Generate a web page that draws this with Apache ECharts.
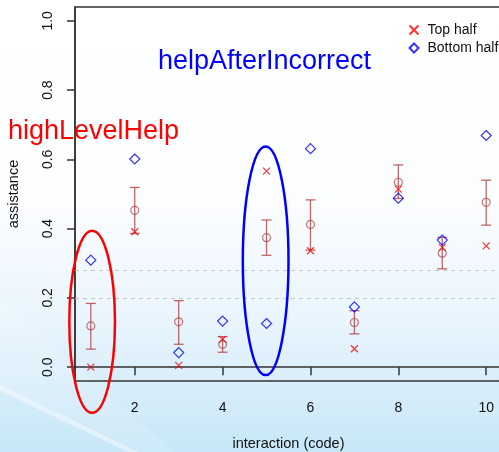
<!DOCTYPE html>
<html>
<head>
<meta charset="utf-8">
<script src="https://cdn.jsdelivr.net/npm/echarts@6/dist/echarts.min.js"></script>
<style>html,body{margin:0;padding:0;}#c{width:499px;height:452px;}</style>
</head>
<body>
<div id="c"></div>
<script>
// ---- data ----
const codes = [1, 2, 3, 4, 5, 6, 7, 8, 9, 10];
const topHalf    = [0.000, 0.391, 0.005, 0.080, 0.566, 0.336, 0.053, 0.514, 0.346, 0.350];
const bottomHalf = [0.309, 0.601, 0.042, 0.133, 0.126, 0.631, 0.174, 0.488, 0.367, 0.669];
const meanVals   = [0.119, 0.453, 0.131, 0.066, 0.374, 0.412, 0.129, 0.534, 0.329, 0.476];
const errLow     = [0.052, 0.386, 0.066, 0.043, 0.323, 0.338, 0.096, 0.487, 0.284, 0.410];
const errHigh    = [0.184, 0.519, 0.192, 0.088, 0.425, 0.483, 0.163, 0.584, 0.375, 0.540];
const refLines   = [0.20, 0.28];
const xTicks = [2, 4, 6, 8, 10];
const yTicks = [0, 0.2, 0.4, 0.6, 0.8, 1.0];
// ellipses: [centerX, centerY, radiusX, radiusY]
const ellipseRed  = [1.03, 0.131, 0.52, 0.263];
const ellipseBlue = [4.98, 0.307, 0.52, 0.330];

const FONT = 'Liberation Sans';
const chart = echarts.init(document.getElementById('c'), null, {renderer: 'canvas'});

function ellipseRender(color) {
  return function (params, api) {
    const c = api.coord([api.value(0), api.value(1)]);
    const s = api.size([api.value(2), api.value(3)]);
    return {
      type: 'ellipse',
      shape: {cx: c[0], cy: c[1], rx: s[0], ry: s[1]},
      style: {fill: 'none', stroke: color, lineWidth: 2.5}
    };
  };
}

const option = {
  animation: false,
  backgroundColor: {
    type: 'linear', x: 0, y: 0, x2: 0, y2: 1,
    colorStops: [
      {offset: 0, color: '#ffffff'},
      {offset: 0.45, color: '#fbfdff'},
      {offset: 0.7, color: '#eaf5fd'},
      {offset: 1, color: '#c7e7f8'}
    ]
  },
  graphic: [
    {type: 'polygon', silent: true, z: -1,
     shape: {points: [[0, 300], [0, 386], [130, 452], [175, 452]]},
     style: {fill: 'rgba(255,255,255,0.12)'}},
    {type: 'polygon', silent: true, z: -1,
     shape: {points: [[0, 385], [0, 391], [128, 452], [138, 452]]},
     style: {fill: 'rgba(255,255,255,0.4)'}},
    {type: 'text', left: 8, top: 118, z: 100,
     style: {text: 'highLevelHelp', fill: '#ff0000', font: '27px "' + FONT + '"'}},
    {type: 'text', left: 158, top: 48, z: 100,
     style: {text: 'helpAfterIncorrect', fill: '#0000ff', font: '27px "' + FONT + '"'}}
  ],
  grid: {
    left: 75, top: 7, width: 427, height: 374,
    outerBoundsMode: 'none', containLabel: false,
    show: true, borderColor: '#333', borderWidth: 1.5, backgroundColor: 'transparent'
  },
  legend: {
    orient: 'vertical', left: 402, top: 18, itemWidth: 9, itemHeight: 9, itemGap: 4,
    textStyle: {fontFamily: FONT, fontSize: 14, color: '#111', lineHeight: 14, padding: [0, 0, 0, 4]},
    data: ['Top half', 'Bottom half'],
    selectedMode: false
  },
  xAxis: {
    type: 'value', min: 0.64, max: 10.36,
    name: 'interaction (code)', nameLocation: 'middle', nameGap: 55,
    nameTextStyle: {fontFamily: FONT, fontSize: 14.5, color: '#111'},
    axisLine: {show: true, lineStyle: {color: '#333', width: 1.5}},
    axisTick: {show: true, length: 8, customValues: xTicks, lineStyle: {color: '#333', width: 1.5}},
    axisLabel: {customValues: xTicks, margin: 20, fontFamily: FONT, fontSize: 14, color: '#111'},
    splitLine: {show: false}
  },
  yAxis: {
    type: 'value', min: -0.04, max: 1.04,
    name: 'assistance', nameLocation: 'middle', nameGap: 54, nameRotate: 90,
    nameTextStyle: {fontFamily: FONT, fontSize: 14.5, color: '#111'},
    axisLine: {show: true, lineStyle: {color: '#333', width: 1.5}},
    axisTick: {show: true, length: 8, customValues: yTicks, lineStyle: {color: '#333', width: 1.5}},
    axisLabel: {customValues: yTicks, rotate: 90, margin: 20, fontFamily: FONT, fontSize: 14, color: '#111',
                formatter: v => v.toFixed(1)},
    splitLine: {show: false}
  },
  series: [
    {
      type: 'custom', name: 'errbars', silent: true, z: 3,
      data: codes.map((x, i) => [x, errLow[i], errHigh[i]]),
      encode: {x: 0, y: [1, 2]},
      renderItem: function (params, api) {
        const lo = api.coord([api.value(0), api.value(1)]);
        const hi = api.coord([api.value(0), api.value(2)]);
        const w = 5;
        const st = {stroke: 'rgba(175,55,55,0.75)', lineWidth: 1.3};
        return {type: 'group', children: [
          {type: 'line', shape: {x1: lo[0], y1: lo[1], x2: hi[0], y2: hi[1]}, style: st},
          {type: 'line', shape: {x1: hi[0] - w, y1: hi[1], x2: hi[0] + w, y2: hi[1]}, style: st},
          {type: 'line', shape: {x1: lo[0] - w, y1: lo[1], x2: lo[0] + w, y2: lo[1]}, style: st}
        ]};
      },
      markLine: {
        silent: true, symbol: 'none', label: {show: false},
        lineStyle: {color: '#c4c4c4', type: [4, 4], width: 1.2},
        data: refLines.map(v => ({yAxis: v}))
      }
    },
    {
      type: 'scatter', name: 'mean', silent: true, z: 4,
      symbol: 'circle', symbolSize: 8,
      itemStyle: {color: 'none', borderColor: 'rgba(175,55,55,0.85)', borderWidth: 1.2},
      data: codes.map((x, i) => [x, meanVals[i]])
    },
    {
      type: 'scatter', name: 'Top half', silent: true, z: 5,
      symbol: 'path://M0,0L10,10M10,0L0,10', symbolSize: 7,
      itemStyle: {color: 'none', borderColor: '#ff0000', borderWidth: 1.2},
      data: codes.map((x, i) => [x, topHalf[i]])
    },
    {
      type: 'scatter', name: 'Bottom half', silent: true, z: 5,
      symbol: 'diamond', symbolSize: 10,
      itemStyle: {color: 'none', borderColor: '#0000ff', borderWidth: 1.2},
      data: codes.map((x, i) => [x, bottomHalf[i]])
    },
    {
      type: 'custom', name: 'ellRed', silent: true, z: 6, clip: false,
      data: [ellipseRed], encode: {x: 0, y: 1},
      renderItem: ellipseRender('#ff0000')
    },
    {
      type: 'custom', name: 'ellBlue', silent: true, z: 6, clip: false,
      data: [ellipseBlue], encode: {x: 0, y: 1},
      renderItem: ellipseRender('#0000ff')
    }
  ]
};
chart.setOption(option);
</script>
</body>
</html>
